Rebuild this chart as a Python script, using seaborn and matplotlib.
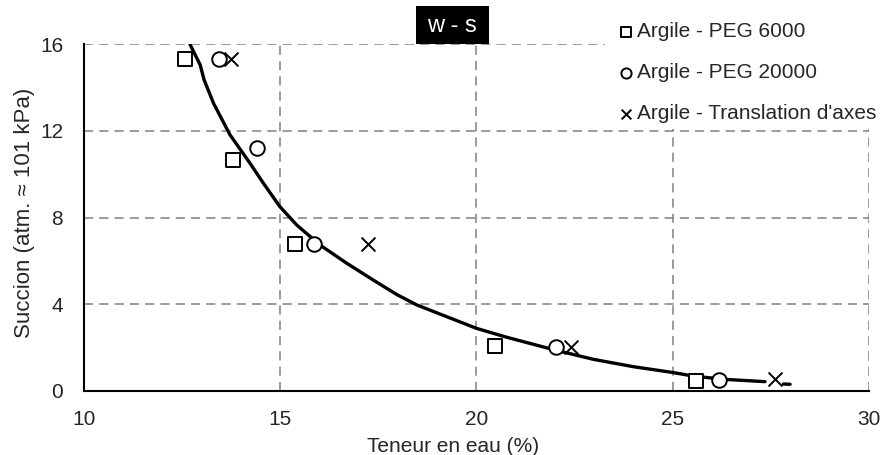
import numpy as np
import pandas as pd
import matplotlib
matplotlib.use("Agg")
import matplotlib.pyplot as plt
import matplotlib.transforms as mtransforms
from matplotlib.patches import Rectangle
import seaborn as sns

# measured points (teneur en eau %, succion atm)
peg6000_w = [12.57, 13.80, 15.38, 20.47, 25.60]
peg6000_s = [15.30, 10.64, 6.77, 2.08, 0.48]
peg20000_w = [13.45, 14.40, 15.87, 22.03, 26.18]
peg20000_s = [15.30, 11.20, 6.77, 2.05, 0.50]
transl_w = [13.75, 17.24, 22.40, 27.60]
transl_s = [15.30, 6.77, 2.05, 0.54]

# fitted curve w - s
curve_w = [12.70, 12.96, 13.06, 13.30, 13.72, 14.23, 14.57, 14.99, 15.42, 16.01,
           16.69, 17.37, 17.97, 18.48, 19.24, 20.00, 20.77, 22.00, 22.98, 24.00,
           25.01, 25.52, 26.29, 27.35]
curve_s = [16.00, 15.05, 14.36, 13.28, 11.82, 10.51, 9.59, 8.51, 7.66, 6.74,
           5.90, 5.12, 4.45, 3.97, 3.43, 2.89, 2.48, 1.89, 1.46, 1.12,
           0.85, 0.69, 0.54, 0.43]
tail_w = [27.82, 27.99]
tail_s = [0.32, 0.31]

series = ["Argile - PEG 6000", "Argile - PEG 20000", "Argile - Translation d'axes"]

df = pd.concat([
    pd.DataFrame({"w": peg6000_w, "s": peg6000_s, "serie": series[0]}),
    pd.DataFrame({"w": peg20000_w, "s": peg20000_s, "serie": series[1]}),
    pd.DataFrame({"w": transl_w, "s": transl_s, "serie": series[2]}),
])
curve = pd.DataFrame({"w": curve_w, "s": curve_s})
tail = pd.DataFrame({"w": tail_w, "s": tail_s})

sns.set_style("white")
plt.rcParams["font.family"] = ["Liberation Sans", "DejaVu Sans"]

fig = plt.figure(figsize=(8.84, 4.55), dpi=100)
ax = fig.add_axes([0.095, 0.1407, 0.888, 0.762])

ax.grid(True, which="major", color="#808080", linestyle=(0, (6, 4)), linewidth=1.1)
ax.set_axisbelow(True)

sns.lineplot(data=curve, x="w", y="s", ax=ax, color="black", linewidth=2.4,
             sort=False, estimator=None, zorder=3)
sns.lineplot(data=tail, x="w", y="s", ax=ax, color="black", linewidth=2.4,
             sort=False, estimator=None, zorder=3)

styles = {series[0]: "s", series[1]: "o", series[2]: "x"}
for name, mk in styles.items():
    sub = df[df["serie"] == name]
    if mk == "x":
        sns.scatterplot(data=sub, x="w", y="s", ax=ax, marker="x", color="black",
                        s=100, linewidth=1.4, label=name, zorder=4)
    else:
        sns.scatterplot(data=sub, x="w", y="s", ax=ax, marker=mk, facecolor="white",
                        edgecolor="black", s=110, linewidth=1.4, label=name, zorder=4)

ax.set_xlim(10, 30)
ax.set_ylim(0, 16)
ax.set_xticks([10, 15, 20, 25, 30])
ax.set_yticks([0, 4, 8, 12, 16])
ax.set_xticks(np.arange(10, 31, 1), minor=True)
ax.set_yticks(np.arange(0, 17, 1), minor=True)
ax.tick_params(axis="x", which="major", direction="inout", length=12, width=1.2,
               labelsize=15, pad=8)
ax.tick_params(axis="x", which="minor", direction="inout", length=8, width=1.0)
ax.tick_params(axis="y", which="major", direction="out", length=7, width=1.2,
               labelsize=15, pad=8)
ax.tick_params(axis="y", which="minor", direction="out", length=5, width=1.0)

for side in ["top", "right"]:
    ax.spines[side].set_visible(False)
for side in ["left", "bottom"]:
    ax.spines[side].set_color("black")
    ax.spines[side].set_linewidth(1.5)

ax.set_xlabel("Teneur en eau (%)", fontsize=15)
ax.set_ylabel("Succion (atm. ≈ 101 kPa)", fontsize=16)
ax.xaxis.set_label_coords(0.47, -0.1326)
ax.yaxis.set_label_coords(-0.062, 0.514)

# black title box "w - s"
trans = mtransforms.blended_transform_factory(ax.transData, ax.transAxes)
ax.add_patch(Rectangle((18.46, 1.0), 1.85, 0.11, transform=trans, facecolor="black",
                       edgecolor="none", clip_on=False, zorder=5))
ax.text(19.385, 1.052, "w - s", transform=trans, color="white", fontsize=17,
        ha="center", va="center", zorder=6)

# white area behind the legend (hides the grid there)
ax.add_patch(Rectangle((0.684, 0.7165), 0.316, 0.2835, transform=fig.transFigure,
                       facecolor="white", edgecolor="none", clip_on=False, zorder=2.5))

ax.legend(loc="upper left", bbox_to_anchor=(0.7023, 0.951), bbox_transform=fig.transFigure,
          frameon=False, fontsize=15, markerscale=0.7, handletextpad=0.3,
          handlelength=0.5, labelspacing=1.05, borderaxespad=0, borderpad=0)

fig.savefig("out.png", dpi=100)
